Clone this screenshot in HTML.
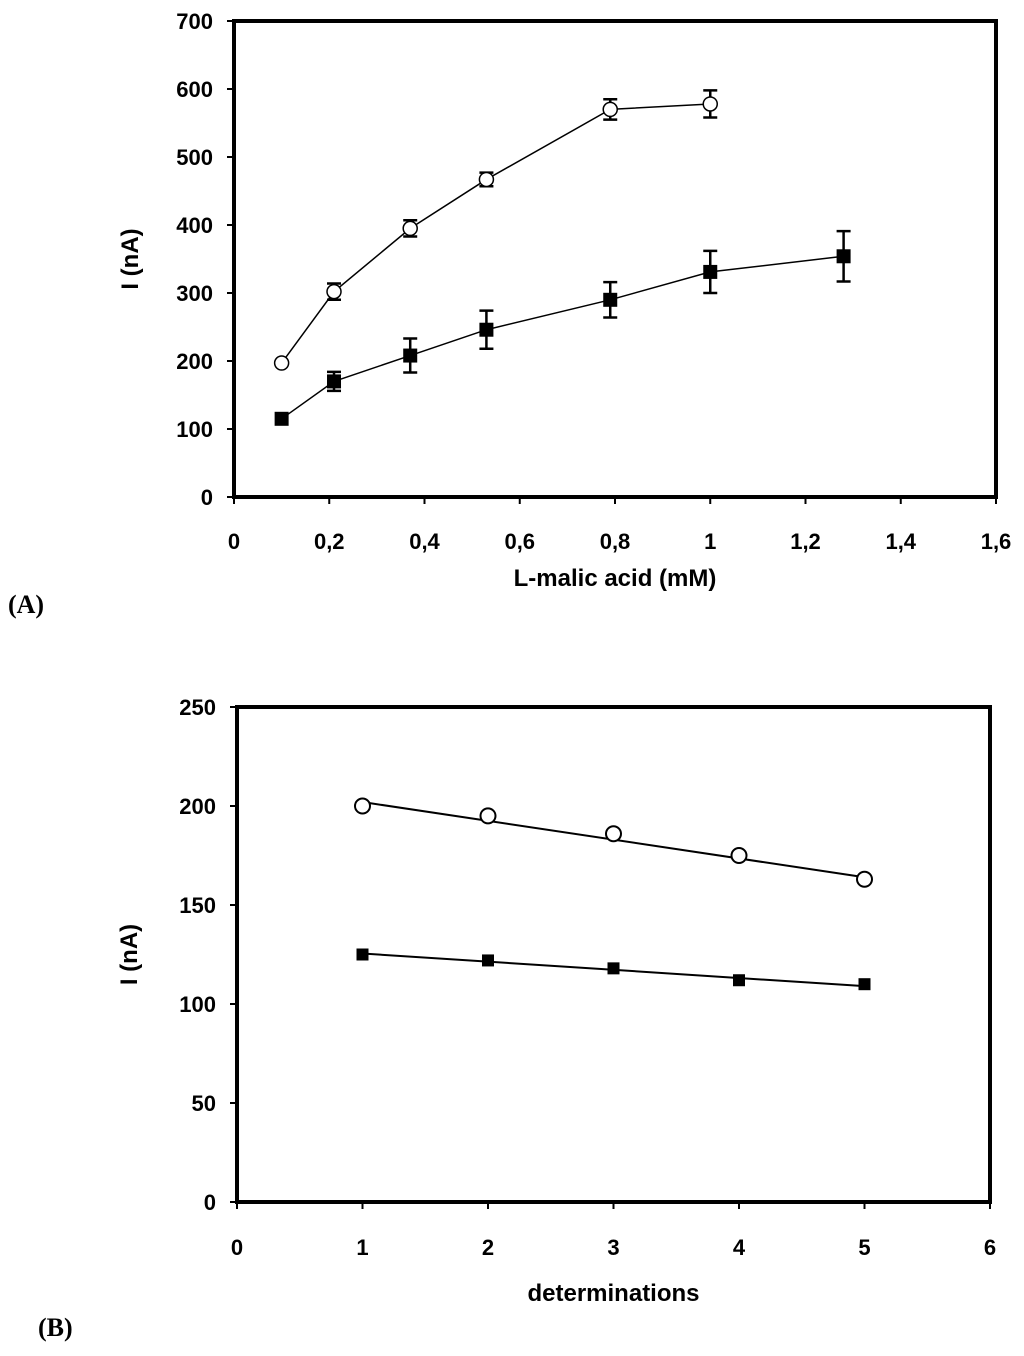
<!DOCTYPE html>
<html><head><meta charset="utf-8"><style>
body{margin:0;background:#fff;}
svg text{font-family:"Liberation Sans",Arial,sans-serif;font-weight:bold;}
</style></head><body>
<svg width="1024" height="1351" xmlns="http://www.w3.org/2000/svg">
<g id="A"></g>
<g id="B"></g>
<text x="8" y="613" font-size="26" style="font-family:'Liberation Serif',serif">(A)</text>
<text x="38" y="1336" font-size="26" style="font-family:'Liberation Serif',serif">(B)</text>
</svg>
<script>
const aXTicks=["0","0,2","0,4","0,6","0,8","1","1,2","1,4","1,6"];
const aYTicks=[0,100,200,300,400,500,600,700];
const aOpenX=[0.1,0.21,0.37,0.53,0.79,1.0];
const aOpenY=[197,302,395,467,570,578];
const aOpenErr=[0,12,12,10,15,20];
const aFillX=[0.1,0.21,0.37,0.53,0.79,1.0,1.28];
const aFillY=[115,170,208,246,290,331,354];
const aFillErr=[0,14,25,28,26,31,37];
const bXTicks=[0,1,2,3,4,5,6];
const bYTicks=[0,50,100,150,200,250];
const bX=[1,2,3,4,5];
const bOpenY=[200,195,186,175,163];
const bFillY=[125,122,118,112,110];
const bOpenFit=[202,164];
const bFillFit=[125.5,109];
const NS="http://www.w3.org/2000/svg";
function mk(p,t,a){const e=document.createElementNS(NS,t);for(const k in a)e.setAttribute(k,a[k]);p.appendChild(e);return e;}
function chart(g,L,R,T,B,xmin,xmax,ymax,xt,yt,xtitle,xtickY,xtitleY,ytitleX){
 const sx=v=>L+(v-xmin)/(xmax-xmin)*(R-L), sy=v=>B-v/ymax*(B-T);
 let r=mk(g,'rect',{x:L,y:T,width:R-L,height:B-T,fill:'none',stroke:'#000','stroke-width':4});
 
 
 yt.forEach(v=>{mk(g,'line',{x1:L-7,x2:L,y1:sy(v),y2:sy(v),stroke:'#000','stroke-width':2});
  let t=mk(g,'text',{x:L-21,y:sy(v)+8,'text-anchor':'end','font-size':22});t.textContent=v;
  
  });
 xt.forEach((lab,i)=>{const v=xmin+i*(xmax-xmin)/(xt.length-1);
  mk(g,'line',{x1:sx(v),x2:sx(v),y1:B,y2:B+7,stroke:'#000','stroke-width':2});
  let t=mk(g,'text',{x:sx(v),y:B+xtickY,'text-anchor':'middle','font-size':22});t.textContent=lab;
  
  });
 let xtl=mk(g,'text',{x:(L+R)/2,y:B+xtitleY,'text-anchor':'middle','font-size':24});xtl.textContent=xtitle;
 
 
 let ytl=mk(g,'text',{x:0,y:0,'text-anchor':'middle','font-size':24,transform:`translate(${ytitleX},${(T+B)/2}) rotate(-90)`});ytl.textContent='I (nA)';
 
 
 return {sx,sy};
}
function series(g,s,xs,ys,errs,filled,line,name){
 mk(g,'polyline',{points:xs.map((x,i)=>s.sx(x)+','+s.sy(ys[i])).join(' '),fill:'none',stroke:'#000','stroke-width':line});
 xs.forEach((x,i)=>{const cx=s.sx(x),cy=s.sy(ys[i]);
  if(errs&&errs[i]){const a=s.sy(ys[i]+errs[i]),b=s.sy(ys[i]-errs[i]);
   mk(g,'path',{d:`M${cx},${a}V${b}M${cx-7},${a}H${cx+7}M${cx-7},${b}H${cx+7}`,stroke:'#000','stroke-width':2.5,fill:'none'});}
  let m=filled?mk(g,'rect',{x:cx-7,y:cy-7,width:14,height:14,fill:'#000'}):mk(g,'circle',{cx,cy,r:7,fill:'#fff',stroke:'#000','stroke-width':1.5});
  
  });
}
const gA=document.getElementById('A');
const sA=chart(gA,234,996,21,497,0,1.6,700,aXTicks,aYTicks,'L-malic acid (mM)',52,89,138);
series(gA,sA,aOpenX,aOpenY,aOpenErr,false,1.5,'open-series');
series(gA,sA,aFillX,aFillY,aFillErr,true,1.5,'filled-series');
const gB=document.getElementById('B');
const sB=chart(gB,237,990,707,1202,0,6,250,bXTicks.map(String),bYTicks,'determinations',53,99,137);
mk(gB,'line',{x1:sB.sx(1),y1:sB.sy(bOpenFit[0]),x2:sB.sx(5),y2:sB.sy(bOpenFit[1]),stroke:'#000','stroke-width':2});
mk(gB,'line',{x1:sB.sx(1),y1:sB.sy(bFillFit[0]),x2:sB.sx(5),y2:sB.sy(bFillFit[1]),stroke:'#000','stroke-width':2});
bX.forEach((x,i)=>{let c=mk(gB,'circle',{cx:sB.sx(x),cy:sB.sy(bOpenY[i]),r:7.5,fill:'#fff',stroke:'#000','stroke-width':2});
 
 
 let r=mk(gB,'rect',{x:sB.sx(x)-6,y:sB.sy(bFillY[i])-6,width:12,height:12,fill:'#000'});
 
 });
</script>
</body></html>
